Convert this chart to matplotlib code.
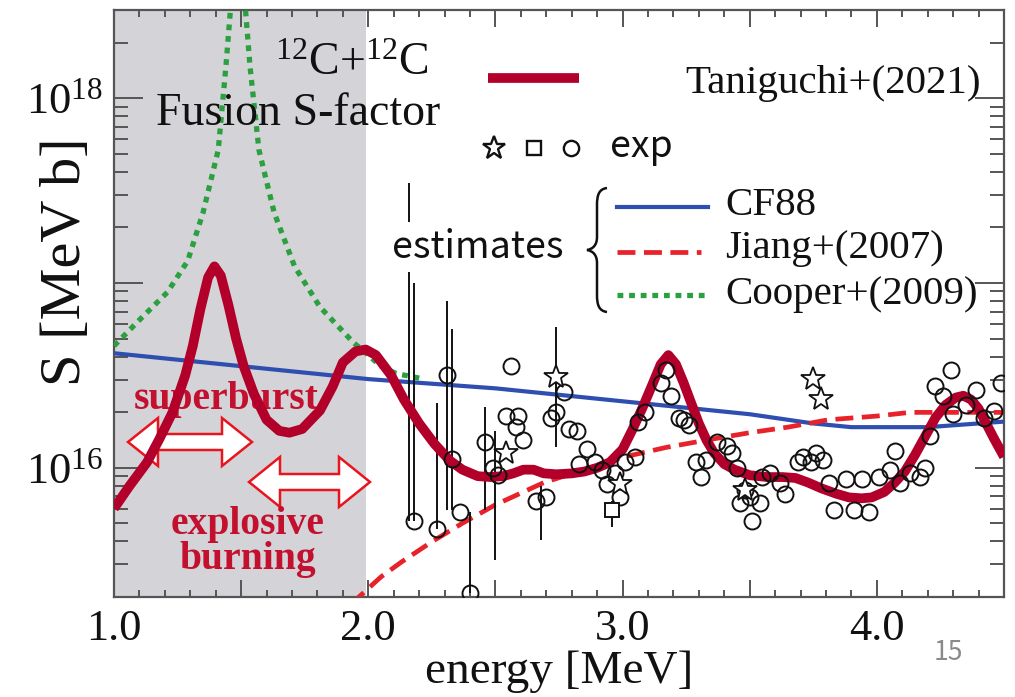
import numpy as np
import matplotlib
matplotlib.use("Agg")
import matplotlib.pyplot as plt
from matplotlib.patches import Polygon, PathPatch
from matplotlib.path import Path
from matplotlib.lines import Line2D
from matplotlib.ticker import FixedLocator, FixedFormatter, MultipleLocator, NullFormatter, LogLocator

plt.rcParams['font.family'] = ['Liberation Serif', 'DejaVu Serif']
plt.rcParams['mathtext.fontset'] = 'custom'
plt.rcParams['mathtext.rm'] = 'Liberation Serif'
plt.rcParams['mathtext.it'] = 'Liberation Serif:italic'
plt.rcParams['mathtext.bf'] = 'Liberation Serif:bold'

SERIF = ['Liberation Serif', 'DejaVu Serif']
SANS_JP = ['Noto Sans CJK JP', 'DejaVu Sans']

# ---- data (energy in MeV, log10 of S-factor in MeV b) ----
tani_E = [1.00, 1.06, 1.13, 1.18, 1.23, 1.28, 1.31, 1.34, 1.37, 1.395, 1.42, 1.45, 1.48, 1.51,
          1.55, 1.60, 1.65, 1.69, 1.74, 1.81, 1.86, 1.90, 1.95, 1.99, 2.03, 2.09, 2.14, 2.20,
          2.26, 2.32, 2.37, 2.43, 2.48, 2.53, 2.57, 2.61, 2.65, 2.69, 2.74, 2.80, 2.85, 2.90,
          2.95, 3.00, 3.04, 3.08, 3.12, 3.15, 3.18, 3.21, 3.24, 3.27, 3.30, 3.33, 3.36, 3.40,
          3.44, 3.50, 3.57, 3.63, 3.68, 3.73, 3.78, 3.84, 3.89, 3.94, 3.98, 4.03, 4.07, 4.11,
          4.15, 4.19, 4.23, 4.27, 4.31, 4.34, 4.37, 4.40, 4.43, 4.46, 4.50]
tani_logS = [15.78, 15.90, 16.03, 16.16, 16.30, 16.50, 16.66, 16.86, 17.03, 17.09, 17.04, 16.88,
             16.70, 16.55, 16.40, 16.26, 16.20, 16.19, 16.21, 16.31, 16.44, 16.57, 16.63, 16.64,
             16.61, 16.50, 16.37, 16.24, 16.13, 16.04, 15.99, 15.955, 15.95, 15.955, 15.97,
             15.99, 15.99, 15.97, 15.965, 15.97, 15.98, 16.00, 16.03, 16.10, 16.21, 16.33,
             16.46, 16.56, 16.61, 16.56, 16.46, 16.35, 16.24, 16.15, 16.08, 16.02, 15.99, 15.96,
             15.95, 15.95, 15.945, 15.92, 15.89, 15.86, 15.84, 15.835, 15.84, 15.87, 15.92,
             15.98, 16.07, 16.17, 16.27, 16.34, 16.38, 16.39, 16.37, 16.32, 16.24, 16.16, 16.06]

cf88_E = [1.00, 1.50, 2.00, 2.50, 3.00, 3.50, 3.75, 3.90, 4.20, 4.50]
cf88_logS = [16.62, 16.55, 16.48, 16.43, 16.36, 16.29, 16.24, 16.22, 16.22, 16.25]

jiang_E = [1.93, 2.05, 2.13, 2.25, 2.37, 2.50, 2.69, 2.85, 3.01, 3.17, 3.33, 3.50, 3.65, 3.81,
           4.00, 4.13, 4.30, 4.50]
jiang_logS = [15.26, 15.41, 15.49, 15.60, 15.70, 15.80, 15.92, 15.99, 16.06, 16.11, 16.15, 16.19,
              16.22, 16.26, 16.28, 16.30, 16.30, 16.30]

cooper_E = [1.00, 1.10, 1.21, 1.29, 1.35, 1.41, 1.44, 1.465, 1.51, 1.535, 1.57, 1.63, 1.71,
            1.81, 1.94, 2.05, 2.11, 2.22]
cooper_logS = [16.66, 16.80, 16.95, 17.12, 17.38, 17.72, 18.17, 18.60, 18.60, 18.17, 17.72,
               17.38, 17.09, 16.87, 16.68, 16.55, 16.51, 16.48]

circ_E = [2.18, 2.27, 2.31, 2.33, 2.36, 2.40, 2.46, 2.49, 2.51, 2.54, 2.56, 2.58, 2.59, 2.61,
          2.66, 2.70, 2.72, 2.74, 2.77, 2.79, 2.82, 2.83, 2.86, 2.89, 2.92, 2.94, 2.97, 2.99,
          3.01, 3.05, 3.06, 3.09, 3.15, 3.17, 3.19, 3.22, 3.24, 3.26, 3.29, 3.31, 3.33, 3.37,
          3.41, 3.43, 3.45, 3.46, 3.48, 3.50, 3.51, 3.54, 3.55, 3.58, 3.62, 3.64, 3.69, 3.71,
          3.74, 3.76, 3.79, 3.81, 3.83, 3.88, 3.91, 3.94, 3.97, 4.01, 4.05, 4.07, 4.09, 4.13,
          4.17, 4.19, 4.21, 4.23, 4.26, 4.29, 4.30, 4.35, 4.39, 4.42, 4.46, 4.49]
circ_logS = [15.71, 15.67, 16.50, 16.05, 15.76, 15.32, 16.14, 16.00, 15.96, 16.28, 16.55, 16.22,
             16.28, 16.15, 15.82, 15.84, 16.27, 16.30, 16.41, 16.21, 16.20, 16.02, 16.10, 16.03,
             15.99, 15.91, 15.97, 15.84, 16.03, 16.06, 16.25, 16.30, 16.46, 16.53, 16.39, 16.27,
             16.26, 16.23, 16.03, 15.95, 16.04, 16.14, 16.12, 16.08, 16.00, 15.81, 15.88, 15.84,
             15.71, 15.81, 15.95, 15.97, 15.92, 15.86, 16.03, 16.06, 16.03, 16.08, 16.04, 15.92,
             15.77, 15.94, 15.77, 15.94, 15.76, 15.95, 15.99, 16.09, 15.92, 15.97, 15.95, 16.00,
             16.17, 16.44, 16.39, 16.53, 16.29, 16.34, 16.42, 16.27, 16.31, 16.46]

star_E = [2.54, 2.74, 2.99, 3.48, 3.75, 3.78]
star_logS = [16.08, 16.49, 15.91, 15.88, 16.48, 16.37]

sq_E = [2.96]
sq_logS = [15.77]

# error bars (energy, lower and upper log10 S)
err_E = [2.16, 2.18, 2.27, 2.31, 2.33, 2.40, 2.46, 2.50, 2.68, 2.74, 2.96]
err_lo = [15.71, 15.71, 15.67, 15.77, 15.77, 15.32, 15.77, 15.50, 15.61, 16.11, 15.68]
err_hi = [17.54, 17.00, 16.35, 16.90, 16.75, 15.76, 16.33, 16.20, 15.90, 16.76, 15.82]

# ---- colours ----
C_TANI = '#b2002a'
C_CF88 = '#2f4fb0'
C_JIANG = '#e8222a'
C_COOPER = '#2aa040'
C_NOTE = '#c3102f'
C_ARROW = '#e8141e'

W, H = 1015, 697
fig = plt.figure(figsize=(W / 100, H / 100), dpi=100)
ax = fig.add_axes([114 / W, 1 - 597 / H, 890 / W, 587 / H])
ax.set_yscale('log')
ax.set_xlim(1.0, 4.5)
ax.set_ylim(2e15, 3e18)


def S(v):
    return 10.0 ** np.asarray(v)


# shaded low-energy window
ax.axvspan(1.0, 1.99, color='#d4d4d8', zorder=0, lw=0)


# placement helper: figure pixels (from top-left) -> axes fraction
def apx(x, y):
    return ((x - 114) / 890, (597 - y) / 587)


def double_arrow(x0, x1, yc, hl=30, sw=8, hw=24):
    pts = [(x0, yc), (x0 + hl, yc - hw), (x0 + hl, yc - sw), (x1 - hl, yc - sw),
           (x1 - hl, yc - hw), (x1, yc), (x1 - hl, yc + hw), (x1 - hl, yc + sw),
           (x0 + hl, yc + sw), (x0 + hl, yc + hw)]
    poly = Polygon([apx(*p) for p in pts], closed=True, transform=ax.transAxes,
                   facecolor='white', edgecolor=C_ARROW, lw=1.8, zorder=2,
                   joinstyle='miter')
    ax.add_patch(poly)


double_arrow(128, 252, 442)
double_arrow(249, 370, 482, hl=31, hw=25)

ax.text(*apx(226, 400), 'superburst', transform=ax.transAxes, ha='center', va='center',
        fontsize=28.5, fontweight='bold', color=C_NOTE, zorder=2, family=SERIF)
ax.text(*apx(248, 542), 'explosive\nburning', transform=ax.transAxes, ha='center',
        va='center', fontsize=28.5, fontweight='bold', color=C_NOTE, zorder=2,
        linespacing=0.95, family=SERIF)

# model curves
ax.plot(cooper_E, S(cooper_logS), color=C_COOPER, lw=3.8, ls=(0, (1.1, 1.1)),
        dash_capstyle='butt', zorder=3)
ax.plot(cf88_E, S(cf88_logS), color=C_CF88, lw=3.0, zorder=3)
ax.plot(jiang_E, S(jiang_logS), color=C_JIANG, lw=3.4, ls=(0, (3.8, 1.8)), zorder=3)

# experimental points
ax.vlines(err_E, S(err_lo), S(err_hi), color='#111111', lw=1.4, zorder=4)
ax.plot(tani_E, S(tani_logS), color=C_TANI, lw=7.0, solid_joinstyle='round',
        solid_capstyle='butt', zorder=5)
ax.plot(circ_E, S(circ_logS), ls='none', marker='o', ms=11.5, mfc='none', mec='#111111',
        mew=1.4, zorder=6)
ax.plot(star_E, S(star_logS), ls='none', marker='*', ms=18, mfc='white', mec='#111111',
        mew=1.3, zorder=6)
ax.plot(sq_E, S(sq_logS), ls='none', marker='s', ms=10, mfc='white', mec='#111111',
        mew=1.4, zorder=6)

# axes styling
for sp in ax.spines.values():
    sp.set_color('#555555')
    sp.set_linewidth(1.6)
ax.xaxis.set_major_locator(FixedLocator([1.0, 1.5, 2.0, 2.5, 3.0, 3.5, 4.0, 4.5]))
ax.xaxis.set_major_formatter(FixedFormatter(['1.0', '', '2.0', '', '3.0', '', '4.0', '']))
ax.xaxis.set_minor_locator(MultipleLocator(0.1))
ax.yaxis.set_major_locator(FixedLocator([1e16, 1e17, 1e18]))
ax.yaxis.set_major_formatter(FixedFormatter(['$10^{16}$', '', '$10^{18}$']))
ax.yaxis.set_minor_locator(LogLocator(base=10, subs=np.arange(2, 10), numticks=50))
ax.yaxis.set_minor_formatter(NullFormatter())
ax.tick_params(axis='both', which='both', direction='in', top=True, right=True,
               color='#555555', width=1.4, labelcolor='#111111')
ax.tick_params(axis='x', which='major', length=12, labelsize=32, pad=9)
ax.tick_params(axis='x', which='minor', length=5)
ax.tick_params(axis='y', which='major', length=21, labelsize=32, pad=8)
ax.tick_params(axis='y', which='minor', length=10)

fig.text(559 / W, 1 - 672 / H, 'energy [MeV]', ha='center', va='center', fontsize=34,
         color='#111111', family=SERIF)
fig.text(66 / W, 1 - 262 / H, 'S [MeV b]', ha='center', va='center', rotation=90,
         fontsize=42, color='#111111', family=SERIF)

# title
ax.text(*apx(352, 75), '$^{12}$C+$^{12}$C', transform=ax.transAxes, ha='center',
        va='baseline', fontsize=33, color='#111111', zorder=7, family=SERIF)
ax.text(*apx(298, 125), 'Fusion S-factor', transform=ax.transAxes, ha='center',
        va='baseline', fontsize=33, color='#111111', zorder=7, family=SERIF)


# legend entries
def legend_line(x0, x1, y, **kw):
    (a0, b0), (a1, b1) = apx(x0, y), apx(x1, y)
    ax.add_line(Line2D([a0, a1], [b0, b1], transform=ax.transAxes, zorder=7, **kw))


legend_line(488, 579, 78, color=C_TANI, lw=7.0, solid_capstyle='butt')
ax.text(*apx(685, 93), 'Taniguchi+(2021)', transform=ax.transAxes, ha='left',
        va='baseline', fontsize=29.5, color='#111111', zorder=7, family=SERIF)

for mk, xx, ms in (('*', 494, 17), ('s', 534, 10), ('o', 571, 11)):
    a, b = apx(xx, 148)
    ax.plot([a], [b], transform=ax.transAxes, marker=mk, ms=ms, mfc='white',
            mec='#111111', mew=1.7, ls='none', zorder=7, clip_on=False)
ax.text(*apx(610, 147), 'exp', transform=ax.transAxes, ha='left', va='center',
        fontsize=27, family=SANS_JP, color='#111111', zorder=7)

ax.text(*apx(478, 247), 'estimates', transform=ax.transAxes, ha='center', va='center',
        fontsize=27, family=SANS_JP, color='#111111', zorder=8,
        bbox=dict(boxstyle='square,pad=0.15', fc='white', ec='none'))

brace_px = [(607, 188), (599, 189), (597, 195), (597, 205), (597, 237),
            (597, 245), (593, 249), (587, 250), (593, 251), (597, 255), (597, 263),
            (597, 295), (597, 305), (599, 311), (607, 312)]
brace_codes = [Path.MOVETO, Path.CURVE4, Path.CURVE4, Path.CURVE4, Path.LINETO,
               Path.CURVE4, Path.CURVE4, Path.CURVE4, Path.CURVE4, Path.CURVE4, Path.CURVE4,
               Path.LINETO, Path.CURVE4, Path.CURVE4, Path.CURVE4]
ax.add_patch(PathPatch(Path([apx(*p) for p in brace_px], brace_codes), transform=ax.transAxes,
                       fc='none', ec='#111111', lw=1.8, zorder=7))

legend_line(617, 708, 207, color=C_CF88, lw=3.0)
ax.text(*apx(725, 215), 'CF88', transform=ax.transAxes, ha='left', va='baseline',
        fontsize=29.5, color='#111111', zorder=7, family=SERIF)
legend_line(617, 701, 252, color=C_JIANG, lw=3.4, ls=(0, (3.8, 1.8)))
ax.text(*apx(725, 258), 'Jiang+(2007)', transform=ax.transAxes, ha='left', va='baseline',
        fontsize=29.5, color='#111111', zorder=7, family=SERIF)
legend_line(617, 705, 295, color=C_COOPER, lw=3.8, ls=(0, (1.1, 1.1)), dash_capstyle='butt')
ax.text(*apx(725, 304), 'Cooper+(2009)', transform=ax.transAxes, ha='left', va='baseline',
        fontsize=29.5, color='#111111', zorder=7, family=SERIF)

fig.text(948 / W, 1 - 652 / H, '15', ha='center', va='center', fontsize=19,
         family=SANS_JP, color='#8a8a8a')

fig.savefig('out.png', dpi=100)
